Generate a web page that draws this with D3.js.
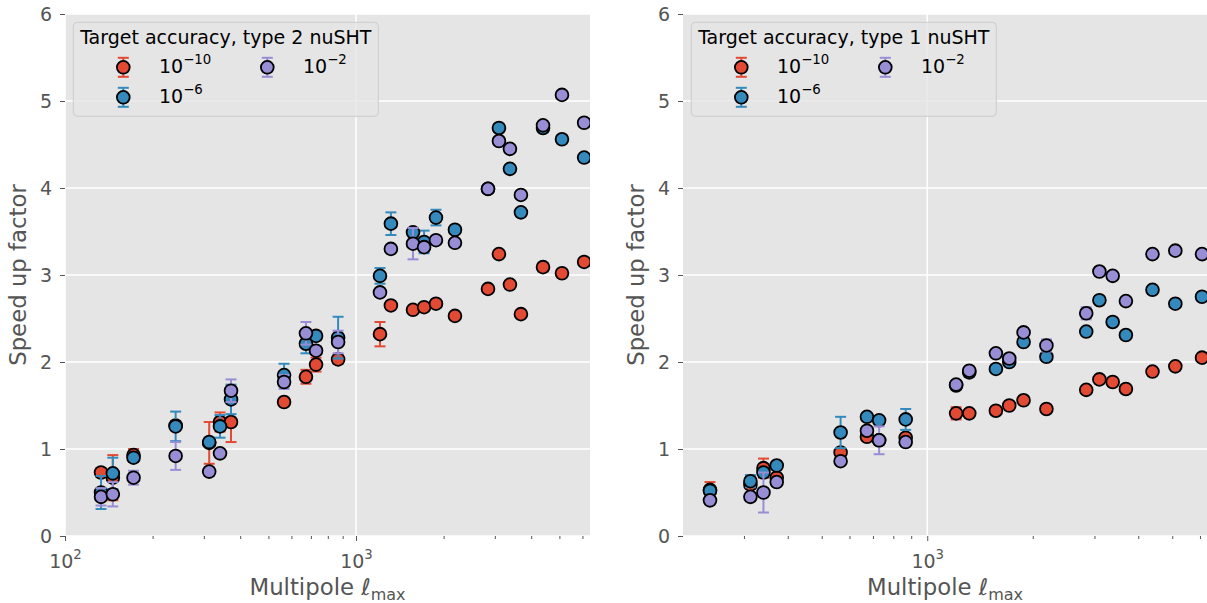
<!DOCTYPE html>
<html>
<head>
<meta charset="utf-8">
<script src="https://cdn.jsdelivr.net/npm/d3@7"></script>
<style>
  body { margin: 0; background: #fff; }
  svg { display: block; font-family: "DejaVu Sans", sans-serif; }
</style>
</head>
<body>
<svg id="chart" width="1207" height="603"></svg>
<script>
// multipole values shared by both panels (type 1 starts at the 4th one)
var lmax = [133, 146, 172, 240, 313, 341, 372, 566, 673, 729, 868, 1209, 1318, 1570, 1714, 1883, 2188, 2842, 3099, 3381, 3688, 4392, 5103, 6081]
var lmaxType1 = lmax.slice(3)

var accuracyLabels = ["\u221210", "\u22126", "\u22122"]
var seriesColors = ["#E24A33", "#348ABD", "#988ED5"]
var yTickValues = [0, 1, 2, 3, 4, 5, 6]

// type 2 nuSHT speed up
var type2Acc10 = [0.73, 0.67, 0.93, 1.27, 1.07, 1.31, 1.31, 1.54, 1.83, 1.97, 2.03, 2.32, 2.65, 2.60, 2.63, 2.67, 2.53, 2.84, 3.24, 2.89, 2.55, 3.09, 3.02, 3.15]
var type2Acc6  = [0.50, 0.72, 0.90, 1.26, 1.08, 1.26, 1.57, 1.85, 2.21, 2.30, 2.28, 2.99, 3.59, 3.49, 3.38, 3.66, 3.52, 3.99, 4.69, 4.22, 3.72, 4.69, 4.56, 4.35]
var type2Acc2  = [0.45, 0.48, 0.67, 0.92, 0.74, 0.95, 1.67, 1.77, 2.33, 2.13, 2.23, 2.80, 3.30, 3.36, 3.32, 3.40, 3.37, 3.99, 4.54, 4.45, 3.92, 4.72, 5.07, 4.75]
var type2Err10 = [0.05, 0.26, 0.07, 0.05, 0.24, 0.11, 0.23, 0.03, 0.08, 0.08, 0.05, 0.14, 0.03, 0.03, 0.03, 0.03, 0.03, 0.03, 0.03, 0.03, 0.03, 0.05, 0.03, 0.03]
var type2Err6  = [0.19, 0.18, 0.05, 0.17, 0.05, 0.13, 0.17, 0.13, 0.11, 0.05, 0.24, 0.09, 0.13, 0.04, 0.13, 0.09, 0.04, 0.04, 0.04, 0.04, 0.04, 0.04, 0.04, 0.04]
var type2Err2  = [0.10, 0.14, 0.08, 0.16, 0.05, 0.04, 0.13, 0.08, 0.13, 0.05, 0.13, 0.04, 0.04, 0.18, 0.04, 0.04, 0.04, 0.04, 0.04, 0.04, 0.04, 0.04, 0.04, 0.04]

// type 1 nuSHT speed up
var type1Acc10 = [0.53, 0.59, 0.78, 0.67, 0.96, 1.14, 1.10, 1.13, 1.41, 1.41, 1.44, 1.50, 1.56, 1.46, 1.68, 1.80, 1.77, 1.69, 1.89, 1.95, 2.05]
var type1Acc6  = [0.52, 0.63, 0.73, 0.81, 1.19, 1.37, 1.33, 1.34, 1.73, 1.88, 1.92, 2.00, 2.23, 2.06, 2.35, 2.71, 2.46, 2.31, 2.83, 2.67, 2.75]
var type1Acc2  = [0.41, 0.45, 0.50, 0.62, 0.86, 1.21, 1.10, 1.08, 1.74, 1.90, 2.10, 2.04, 2.34, 2.19, 2.56, 3.04, 2.99, 2.70, 3.24, 3.28, 3.24]
var type1Err10 = [0.09, 0.05, 0.11, 0.04, 0.04, 0.04, 0.04, 0.04, 0.07, 0.03, 0.03, 0.03, 0.03, 0.03, 0.03, 0.03, 0.03, 0.03, 0.03, 0.03, 0.03]
var type1Err6  = [0.04, 0.07, 0.05, 0.04, 0.18, 0.04, 0.04, 0.12, 0.04, 0.05, 0.03, 0.03, 0.03, 0.03, 0.03, 0.03, 0.03, 0.03, 0.03, 0.03, 0.03]
var type1Err2  = [0.04, 0.05, 0.23, 0.04, 0.04, 0.04, 0.16, 0.04, 0.04, 0.04, 0.03, 0.03, 0.03, 0.07, 0.07, 0.03, 0.03, 0.03, 0.03, 0.03, 0.03]

var dims = {
    top: 14,
    bottom: 536,
    markerR: 6.4,
    markerStroke: 1.8,
    capW: 5.5,
    tickFont: 19,
    labelFont: 22.8,
    legendFont: 19
}

var svg = d3.select("#chart")

function powLabel(sel, exp) {
    sel.text(null)
    sel.append("tspan").text("10")
    sel.append("tspan").attr("dy", -8.5).style("font-size", "13.3px").text(exp)
}

function drawPanel(p, idx) {
    var xScale = d3.scaleLog().domain([p.xMin, p.xMax]).range([p.left, p.right])
    var yScale = d3.scaleLinear().domain([0, 6]).range([dims.bottom, dims.top])

    var g = svg.append("g")

    var clipId = "clip" + idx
    g.append("clipPath").attr("id", clipId)
        .append("rect")
        .attr("x", p.left).attr("y", dims.top)
        .attr("width", p.right - p.left).attr("height", dims.bottom - dims.top)

    g.append("rect")
        .attr("x", p.left).attr("y", dims.top)
        .attr("width", p.right - p.left).attr("height", dims.bottom - dims.top)
        .attr("fill", "#E5E5E5")

    var majors = [100, 1000].filter(v => v >= p.xMin && v <= p.xMax)
    var minors = []
    ;[100, 1000].forEach(dec => {
        for (var k = 2; k <= 9; k++) {
            var v = dec * k
            if (v >= p.xMin && v <= p.xMax) minors.push(v)
        }
    })

    // grid
    g.append("g").selectAll("line").data(yTickValues).enter().append("line")
        .attr("x1", p.left).attr("x2", p.right)
        .attr("y1", d => yScale(d)).attr("y2", d => yScale(d))
        .attr("stroke", "white").attr("stroke-width", 1.5)
    g.append("g").selectAll("line").data(majors).enter().append("line")
        .attr("x1", d => xScale(d)).attr("x2", d => xScale(d))
        .attr("y1", dims.top).attr("y2", dims.bottom)
        .attr("stroke", "white").attr("stroke-width", 1.5)

    // axes
    var xAxisMajor = svg.append("g")
        .attr("transform", `translate(0, ${dims.bottom})`)
        .call(d3.axisBottom(xScale).tickValues(majors).tickSize(5).tickPadding(7).tickFormat(() => ""))
    xAxisMajor.selectAll(".tick text").each(function(d) {
        powLabel(d3.select(this), String(Math.round(Math.log10(d))))
    })
    var xAxisMinor = svg.append("g")
        .attr("transform", `translate(0, ${dims.bottom})`)
        .call(d3.axisBottom(xScale).tickValues(minors).tickSize(3).tickFormat(() => ""))

    var yAxis = svg.append("g")
        .attr("transform", `translate(${p.left}, 0)`)
        .call(d3.axisLeft(yScale).tickValues(yTickValues).tickSize(5).tickPadding(8).tickFormat(d3.format("d")))

    ;[xAxisMajor, xAxisMinor, yAxis].forEach(a => {
        a.select(".domain").remove()
        a.selectAll(".tick line").attr("stroke", "#555555").attr("stroke-width", 1)
        a.selectAll(".tick text").attr("fill", "#555555").style("font-size", dims.tickFont + "px")
            .style("font-family", "DejaVu Sans")
    })
    xAxisMajor.selectAll(".tick text").attr("dy", "1.05em")

    // axis titles
    var xt = svg.append("text")
        .attr("x", (p.left + p.right) / 2).attr("y", 595)
        .attr("text-anchor", "middle").attr("fill", "#555555")
        .style("font-size", dims.labelFont + "px")
    xt.append("tspan").text("Multipole ")
    xt.append("tspan").style("font-style", "italic").text("\u2113")
    xt.append("tspan").attr("dy", 5).style("font-size", "16px").text("max")

    svg.append("text")
        .attr("transform", `translate(${p.left - 39}, ${(dims.top + dims.bottom) / 2}) rotate(-90)`)
        .attr("text-anchor", "middle").attr("fill", "#555555")
        .style("font-size", dims.labelFont + "px")
        .text("Speed up factor")

    // data: errorbars then markers, one series at a time
    var plot = g.append("g").attr("clip-path", `url(#${clipId})`)
    p.series.forEach((s, si) => {
        var pts = p.x.map((x, i) => ({x: x, y: s.values[i], e: s.errors[i]}))
        var col = seriesColors[si]
        var sg = plot.append("g")
        sg.selectAll(".bar").data(pts).enter().append("line")
            .attr("x1", d => xScale(d.x)).attr("x2", d => xScale(d.x))
            .attr("y1", d => yScale(d.y - d.e)).attr("y2", d => yScale(d.y + d.e))
            .attr("stroke", col).attr("stroke-width", 2)
        sg.selectAll(".capT").data(pts).enter().append("line")
            .attr("x1", d => xScale(d.x) - dims.capW).attr("x2", d => xScale(d.x) + dims.capW)
            .attr("y1", d => yScale(d.y + d.e)).attr("y2", d => yScale(d.y + d.e))
            .attr("stroke", col).attr("stroke-width", 2)
        sg.selectAll(".capB").data(pts).enter().append("line")
            .attr("x1", d => xScale(d.x) - dims.capW).attr("x2", d => xScale(d.x) + dims.capW)
            .attr("y1", d => yScale(d.y - d.e)).attr("y2", d => yScale(d.y - d.e))
            .attr("stroke", col).attr("stroke-width", 2)
        sg.selectAll("circle").data(pts).enter().append("circle")
            .attr("cx", d => xScale(d.x)).attr("cy", d => yScale(d.y))
            .attr("r", dims.markerR)
            .attr("fill", col).attr("stroke", "black").attr("stroke-width", dims.markerStroke)
    })

    // legend
    var lx = p.left + 8.3, ly = 22.3
    var leg = svg.append("g").attr("transform", `translate(${lx}, ${ly})`)
    leg.append("rect")
        .attr("width", 305).attr("height", 94).attr("rx", 4)
        .attr("fill", "#E5E5E5").attr("fill-opacity", 0.8)
        .attr("stroke", "#CCCCCC").attr("stroke-width", 1)
    leg.append("text")
        .attr("x", 152.5).attr("y", 22.2)
        .attr("text-anchor", "middle").attr("fill", "black")
        .style("font-size", dims.legendFont + "px")
        .text(p.title)
    var slots = [[50, 45], [50, 75], [194, 45]]
    accuracyLabels.forEach((lab, i) => {
        var e = leg.append("g").attr("transform", `translate(${slots[i][0]}, ${slots[i][1]})`)
        var col = seriesColors[i]
        e.append("line").attr("y1", -9.5).attr("y2", 9.5).attr("stroke", col).attr("stroke-width", 2)
        e.append("line").attr("x1", -dims.capW).attr("x2", dims.capW).attr("y1", -9.5).attr("y2", -9.5).attr("stroke", col).attr("stroke-width", 2)
        e.append("line").attr("x1", -dims.capW).attr("x2", dims.capW).attr("y1", 9.5).attr("y2", 9.5).attr("stroke", col).attr("stroke-width", 2)
        e.append("circle").attr("r", dims.markerR).attr("fill", col).attr("stroke", "black").attr("stroke-width", dims.markerStroke)
        var t = e.append("text").attr("x", 35.7).attr("y", 5.5).attr("fill", "black").style("font-size", dims.legendFont + "px")
        t.append("tspan").text("10")
        t.append("tspan").attr("dy", -8.7).style("font-size", "13.3px").text(lab)
    })
}

drawPanel({
    left: 65, right: 590, xMin: 100, xMax: 6370,
    title: "Target accuracy, type 2 nuSHT",
    x: lmax,
    series: [
        {values: type2Acc10, errors: type2Err10},
        {values: type2Acc6, errors: type2Err6},
        {values: type2Acc2, errors: type2Err2}
    ]
}, 0)

drawPanel({
    left: 683, right: 1207, xMin: 201, xMax: 6283,
    title: "Target accuracy, type 1 nuSHT",
    x: lmaxType1,
    series: [
        {values: type1Acc10, errors: type1Err10},
        {values: type1Acc6, errors: type1Err6},
        {values: type1Acc2, errors: type1Err2}
    ]
}, 1)
</script>
</body>
</html>
